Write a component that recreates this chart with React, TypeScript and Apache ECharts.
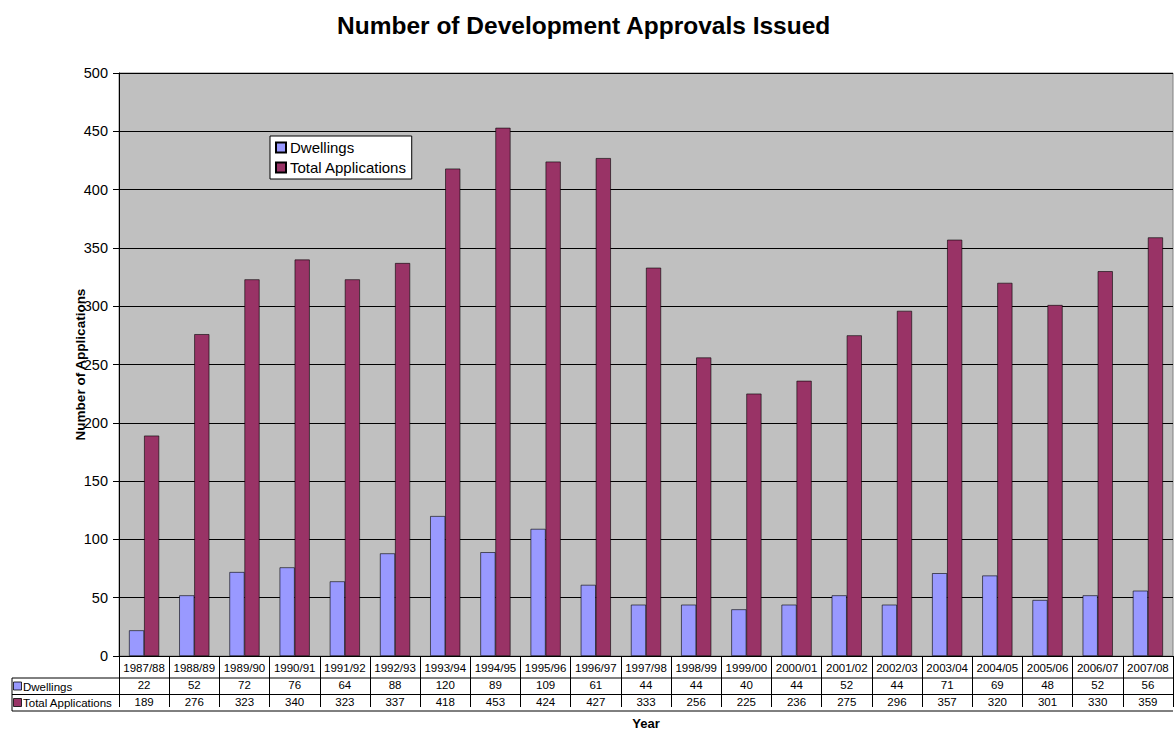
import React, { useEffect, useRef } from "react";
import * as echarts from "echarts";

const years = ["1987/88","1988/89","1989/90","1990/91","1991/92","1992/93","1993/94","1994/95","1995/96","1996/97","1997/98","1998/99","1999/00","2000/01","2001/02","2002/03","2003/04","2004/05","2005/06","2006/07","2007/08"];
const dwellings = [22,52,72,76,64,88,120,89,109,61,44,44,40,44,52,44,71,69,48,52,56];
const totalApplications = [189,276,323,340,323,337,418,453,424,427,333,256,225,236,275,296,357,320,301,330,359];
const yTicks = { min: 0, max: 500, interval: 50 };

const FONT = "Arial, 'Liberation Sans', sans-serif";
const DW_COLOR = "#9999FF";
const TA_COLOR = "#993366";

const GRID = { left: 119, right: 1, top: 73, bottom: 75 };
const W = 1174, H = 735;

export default function App() {
  const ref = useRef<HTMLDivElement>(null);
  useEffect(() => {
    if (!ref.current) return;
    const chart = echarts.init(ref.current, null, { renderer: "svg" });
    const plotBottom = H - GRID.bottom;
    const plotRight = W - GRID.right;
    const row1 = plotBottom + 18;
    const row2 = row1 + 16.5;
    const row3 = row2 + 16.5;
    const tableLeft = 12;
    chart.setOption({
      animation: false,
      backgroundColor: "#fff",
      textStyle: { fontFamily: FONT },
      title: {
        text: "Number of Development Approvals Issued",
        left: 332,
        top: 8,
        textStyle: { fontSize: 24.5, fontWeight: "bold", color: "#000", fontFamily: FONT },
      },
      legend: {
        orient: "vertical",
        left: 270,
        top: 136,
        backgroundColor: "#fff",
        borderColor: "#000",
        borderWidth: 1,
        padding: [4, 5, 4, 5],
        itemWidth: 10,
        itemHeight: 10,
        itemGap: 5,
        icon: "rect",
        textStyle: { fontSize: 15, color: "#000", fontFamily: FONT, padding: [0, 0, 0, -1] },
        data: ["Dwellings", "Total Applications"],
      },
      grid: {
        ...GRID,
        show: true,
        backgroundColor: "#C0C0C0",
        borderColor: "#808080",
        borderWidth: 1,
        containLabel: false,
      },
      xAxis: {
        type: "category",
        data: years,
        boundaryGap: true,
        name: "Year",
        nameLocation: "middle",
        nameGap: 61,
        nameMoveOverlap: false,
        nameTextStyle: { fontSize: 13, fontWeight: "bold", color: "#000", fontFamily: FONT },
        axisLine: { lineStyle: { color: "#000", width: 1 } },
        axisTick: { show: true, length: 51, lineStyle: { color: "#000", width: 1 } },
        axisLabel: {
          interval: 0,
          margin: 3,
          color: "#000",
          fontFamily: FONT,
          formatter: (v: string, i: number) =>
            `{y|${v}}\n{v|${dwellings[i]}}\n{v|${totalApplications[i]}}`,
          rich: {
            y: { fontSize: 11.5, lineHeight: 18, fontFamily: FONT, color: "#000" },
            v: { fontSize: 11.5, lineHeight: 16.5, fontFamily: FONT, color: "#000" },
          },
        },
        splitLine: { show: false },
      },
      yAxis: {
        type: "value",
        min: yTicks.min,
        max: yTicks.max,
        interval: yTicks.interval,
        name: "Number of Applications",
        nameLocation: "middle",
        nameGap: 32,
        nameMoveOverlap: false,
        nameTextStyle: { fontSize: 13.5, fontWeight: "bold", color: "#000", fontFamily: FONT },
        axisLine: { show: true, lineStyle: { color: "#000", width: 1 } },
        axisTick: { show: true, length: 6, lineStyle: { color: "#000" } },
        axisLabel: { fontSize: 14.5, color: "#000", margin: 11, fontFamily: FONT },
        splitLine: { show: true, lineStyle: { color: "#000", width: 1 } },
      },
      series: [
        {
          name: "Dwellings",
          type: "bar",
          data: dwellings,
          barGap: "0%",
          barCategoryGap: "40%",
          itemStyle: { color: DW_COLOR, borderColor: "#000", borderWidth: 0.6 },
        },
        {
          name: "Total Applications",
          type: "bar",
          data: totalApplications,
          barGap: "0%",
          barCategoryGap: "40%",
          itemStyle: { color: TA_COLOR, borderColor: "#000", borderWidth: 0.6 },
        },
      ],
      graphic: [
        { type: "line", shape: { x1: tableLeft, y1: row1, x2: plotRight, y2: row1 }, style: { stroke: "#000", lineWidth: 1 } },
        { type: "line", shape: { x1: tableLeft, y1: row2, x2: plotRight, y2: row2 }, style: { stroke: "#000", lineWidth: 1 } },
        { type: "line", shape: { x1: tableLeft, y1: row3, x2: plotRight, y2: row3 }, style: { stroke: "#000", lineWidth: 1 } },
        { type: "line", shape: { x1: tableLeft, y1: row1, x2: tableLeft, y2: row3 }, style: { stroke: "#000", lineWidth: 1 } },
        { type: "rect", shape: { x: 13.5, y: row1 + 4, width: 8, height: 8 }, style: { fill: DW_COLOR, stroke: "#000", lineWidth: 0.8 } },
        { type: "text", x: 23, y: row1 + 8.5, style: { text: "Dwellings", fontSize: 11.5, fontFamily: FONT, fill: "#000", verticalAlign: "middle" } },
        { type: "rect", shape: { x: 13.5, y: row2 + 4, width: 8, height: 8 }, style: { fill: TA_COLOR, stroke: "#000", lineWidth: 0.8 } },
        { type: "text", x: 23, y: row2 + 8.5, style: { text: "Total Applications", fontSize: 11.5, fontFamily: FONT, fill: "#000", verticalAlign: "middle" } },
      ],
    });
    return () => chart.dispose();
  }, []);
  return (
    <div
      ref={ref}
      style={{ position: "fixed", left: 0, top: 0, width: W, height: H, background: "#fff" }}
    />
  );
}
